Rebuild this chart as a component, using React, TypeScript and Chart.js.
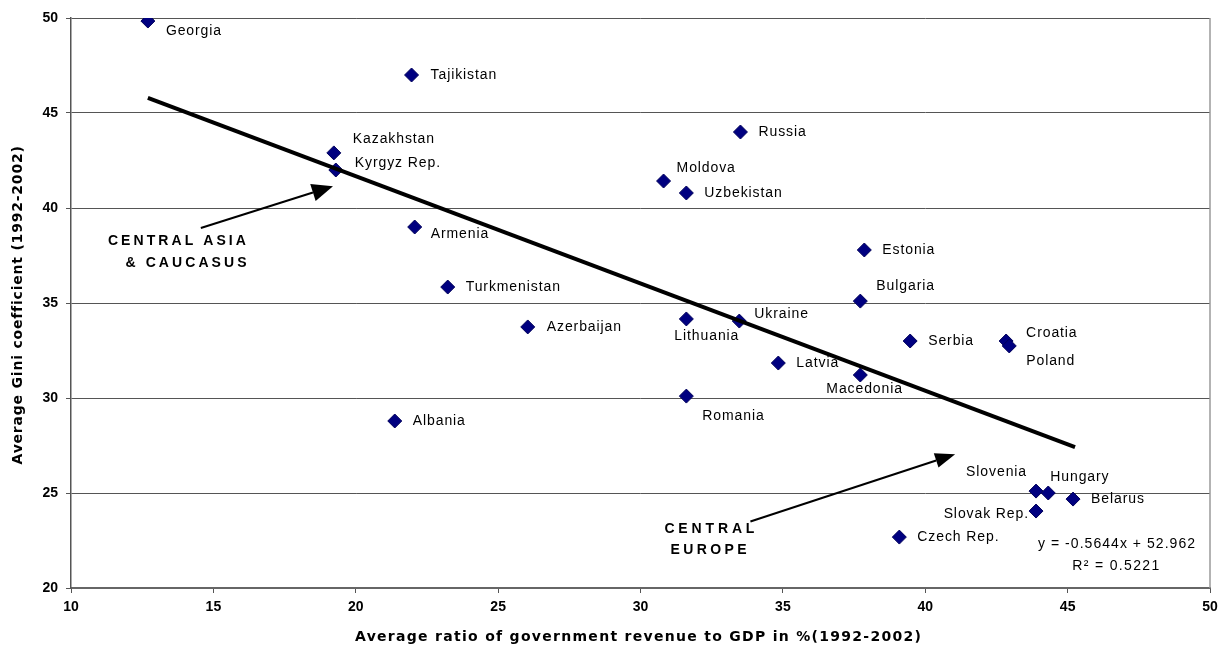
import React, { useEffect, useRef } from 'react';
import { Chart, registerables } from 'chart.js';
Chart.register(...registerables);

// ---------- data ----------
const countries = [
  'Georgia', 'Tajikistan', 'Kazakhstan', 'Kyrgyz Rep.', 'Russia', 'Moldova', 'Uzbekistan',
  'Armenia', 'Estonia', 'Turkmenistan', 'Bulgaria', 'Azerbaijan', 'Lithuania', 'Ukraine',
  'Serbia', 'Croatia', 'Poland', 'Latvia', 'Macedonia', 'Romania', 'Albania', 'Slovenia',
  'Hungary', 'Belarus', 'Slovak Rep.', 'Czech Rep.',
];
const revenueRatio = [
  12.7, 21.96, 19.23, 19.3, 33.51, 30.81, 31.61,
  22.07, 37.86, 23.23, 37.72, 26.04, 31.61, 33.47,
  39.47, 42.84, 42.95, 34.84, 37.72, 31.61, 21.37, 43.89,
  44.32, 45.19, 43.89, 39.09,
];
const giniCoef = [
  49.84, 47.0, 42.9, 42.0, 44.0, 41.42, 40.79,
  39.0, 37.79, 35.84, 35.1, 33.74, 34.16, 34.05,
  33.0, 33.0, 32.74, 31.84, 31.21, 30.1, 28.79, 25.1,
  25.0, 24.68, 24.05, 22.68,
];
const xMin = 10, xMax = 50, xStep = 5;
const yMin = 20, yMax = 50, yStep = 5;

const trendSlope = -0.5644;
const trendIntercept = 52.962;
const trendXStart = 12.7;
const trendXEnd = 45.26;
const equationText = 'y = -0.5644x + 52.962';
const r2Text = 'R² = 0.5221';

const xTitle = 'Average ratio of government revenue to GDP in %(1992-2002)';
const yTitle = 'Average Gini coefficient (1992-2002)';

const groupLabels = [
  { lines: ['CENTRAL ASIA', '& CAUCASUS'] },
  { lines: ['CENTRAL', 'EUROPE'] },
];

// ---------- layout / style (not data) ----------
// label offset from marker in px: [dx, dy, align]
const labelOffsets: [number, number, CanvasTextAlign][] = [
  [18, 10, 'left'], [19, 0, 'left'], [19, -14, 'left'], [19, -7, 'left'], [18, 0, 'left'],
  [13, -13, 'left'], [18, 0, 'left'], [16, 7, 'left'], [18, 0, 'left'], [18, 0, 'left'],
  [16, -15, 'left'], [19, 0, 'left'], [-12, 17, 'left'], [15, -7, 'left'], [18, 0, 'left'],
  [20, -8, 'left'], [17, 15, 'left'], [18, 0, 'left'], [-34, 14, 'left'], [16, 20, 'left'],
  [18, 0, 'left'], [-9, -19, 'right'], [2, -16, 'left'], [18, 0, 'left'], [-7, 3, 'right'],
  [18, 0, 'left'],
];
// annotation anchors in data units
const groupTextAnchors = [
  [[13.72, 38.26, 138], [14.04, 37.1, 121]],
  [[32.42, 23.1, 90], [32.39, 22.0, 76]],
];
const groupArrows = [
  { from: [14.56, 38.95], to: [19.2, 41.15], head: 21, half: 9 },
  { from: [33.86, 23.5], to: [41.05, 27.04], head: 20, half: 7.5 },
];
const equationAnchors = [
  [43.96, 22.32, 157],
  [45.16, 21.16, 87],
];

const NAVY = '#000080';
const FONT = '"Liberation Sans", Arial, sans-serif';
const TITLE_FONT = '"DejaVu Sans", Verdana, sans-serif';

function fitText(ctx: CanvasRenderingContext2D, text: string, x: number, y: number, width: number, align: 'left' | 'center') {
  (ctx as any).letterSpacing = '0px';
  const w = ctx.measureText(text).width;
  const n = Math.max(1, text.length - 1);
  const sp = (width - w) / n;
  (ctx as any).letterSpacing = sp + 'px';
  ctx.textAlign = 'left';
  const startX = align === 'center' ? x - width / 2 : x;
  ctx.fillText(text, startX, y);
  (ctx as any).letterSpacing = '0px';
}

export default function App() {
  const ref = useRef<HTMLCanvasElement>(null);
  useEffect(() => {
    document.body.style.margin = '0';
    const canvas = ref.current!;

    const overlay = {
      id: 'overlay',
      afterDraw(chart: any) {
        const { ctx, chartArea } = chart;
        const xs = chart.scales.x;
        const ys = chart.scales.y;
        ctx.save();
        // right border
        ctx.strokeStyle = '#9a9a9a';
        ctx.lineWidth = 1.5;
        ctx.beginPath();
        ctx.moveTo(chartArea.right, chartArea.top);
        ctx.lineTo(chartArea.right, chartArea.bottom);
        ctx.stroke();

        // arrows
        ctx.strokeStyle = '#000';
        ctx.fillStyle = '#000';
        groupArrows.forEach((a) => {
          const x1 = xs.getPixelForValue(a.from[0]);
          const y1 = ys.getPixelForValue(a.from[1]);
          const x2 = xs.getPixelForValue(a.to[0]);
          const y2 = ys.getPixelForValue(a.to[1]);
          const ang = Math.atan2(y2 - y1, x2 - x1);
          const bx = x2 - a.head * Math.cos(ang);
          const by = y2 - a.head * Math.sin(ang);
          ctx.lineWidth = 2;
          ctx.beginPath();
          ctx.moveTo(x1, y1);
          ctx.lineTo(bx, by);
          ctx.stroke();
          ctx.beginPath();
          ctx.moveTo(x2, y2);
          ctx.lineTo(bx + a.half * Math.sin(ang), by - a.half * Math.cos(ang));
          ctx.lineTo(bx - a.half * Math.sin(ang), by + a.half * Math.cos(ang));
          ctx.closePath();
          ctx.fill();
        });

        // country labels
        ctx.font = '14px ' + FONT;
        ctx.fillStyle = '#000';
        ctx.textBaseline = 'middle';
        (ctx as any).letterSpacing = '0.9px';
        countries.forEach((c, i) => {
          const px = xs.getPixelForValue(revenueRatio[i]);
          const py = ys.getPixelForValue(giniCoef[i]);
          const [dx, dy, al] = labelOffsets[i];
          ctx.textAlign = al;
          ctx.fillText(c, px + dx, py + dy);
        });
        (ctx as any).letterSpacing = '0px';

        // group labels
        ctx.font = 'bold 14px ' + FONT;
        groupLabels.forEach((g, gi) => {
          g.lines.forEach((line, li) => {
            const [ax, ay, w] = groupTextAnchors[gi][li];
            fitText(ctx, line, xs.getPixelForValue(ax), ys.getPixelForValue(ay), w, 'center');
          });
        });

        // equation
        ctx.font = '14px ' + FONT;
        [equationText, r2Text].forEach((t, i) => {
          const [ax, ay, w] = equationAnchors[i];
          fitText(ctx, t, xs.getPixelForValue(ax), ys.getPixelForValue(ay), w, 'left');
        });

        // axis titles
        ctx.font = 'bold 14px ' + TITLE_FONT;
        fitText(ctx, xTitle, 638, 637, 566, 'center');
        ctx.save();
        ctx.translate(18, 306);
        ctx.rotate(-Math.PI / 2);
        fitText(ctx, yTitle, 0, 0, 317, 'center');
        ctx.restore();

        ctx.restore();
      },
    };

    const points = revenueRatio.map((x, i) => ({ x, y: giniCoef[i] }));
    const trend = [trendXStart, trendXEnd].map((x) => ({ x, y: trendSlope * x + trendIntercept }));

    const tickFont = { family: FONT, size: 14, weight: 'bold' as const };

    const chart = new Chart(canvas, {
      type: 'scatter',
      data: {
        datasets: [
          {
            type: 'line',
            data: trend,
            borderColor: '#000',
            borderWidth: 4,
            pointRadius: 0,
            fill: false,
          } as any,
          {
            data: points,
            pointStyle: 'rectRot',
            pointRadius: 7,
            backgroundColor: NAVY,
            borderColor: '#00005a',
            borderWidth: 1,
          },
        ],
      },
      options: {
        responsive: true,
        maintainAspectRatio: false,
        animation: false,
        layout: { padding: { top: 18, right: 21, left: 0, bottom: 0 } },
        plugins: { legend: { display: false }, tooltip: { enabled: false } },
        scales: {
          x: {
            type: 'linear',
            min: xMin,
            max: xMax,
            ticks: { stepSize: xStep, font: tickFont, color: '#000', padding: 6, maxRotation: 0 },
            grid: { drawOnChartArea: false, drawTicks: true, tickLength: 5, color: '#555' },
            border: { color: '#666', width: 2 },
            afterFit: (s: any) => { s.height = 67; },
          },
          y: {
            type: 'linear',
            min: yMin,
            max: yMax,
            ticks: { stepSize: yStep, font: tickFont, color: '#000', padding: 8 },
            grid: { color: '#555', lineWidth: 1, tickLength: 5 },
            border: { color: '#555', width: 1.5 },
            afterFit: (s: any) => { s.width = 71; },
          },
        },
      },
      plugins: [overlay],
    });
    return () => chart.destroy();
  }, []);
  return (
    <div style={{ position: 'absolute', left: 0, top: 0, width: 1231, height: 655 }}>
      <canvas ref={ref} />
    </div>
  );
}
